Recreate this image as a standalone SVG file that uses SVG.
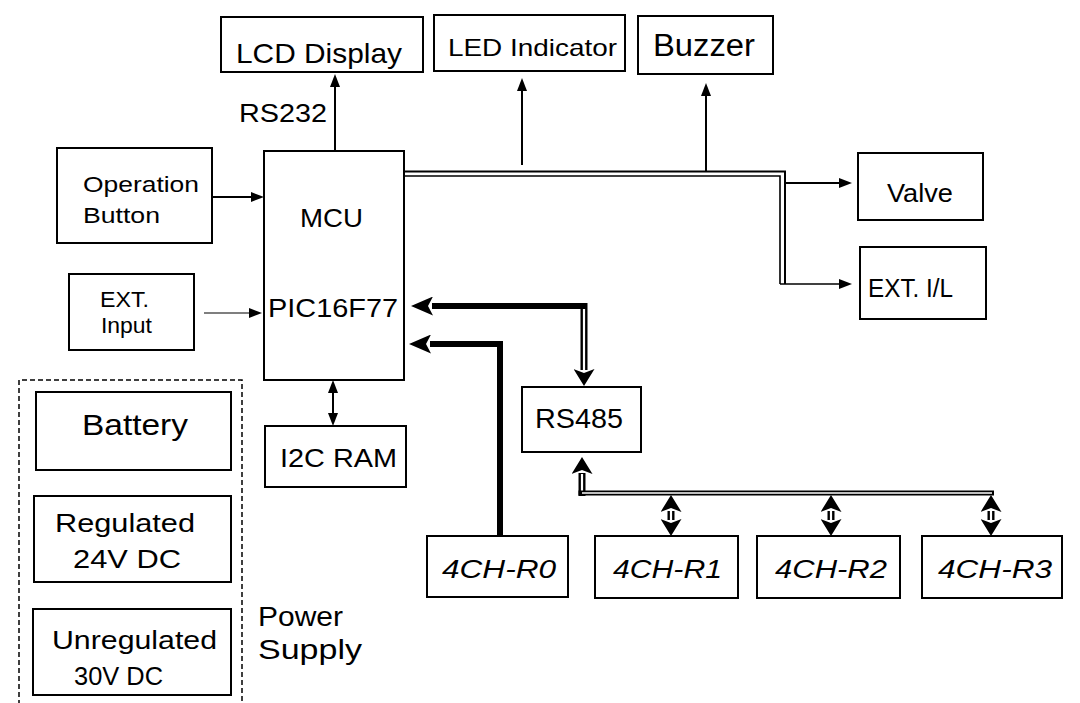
<svg xmlns="http://www.w3.org/2000/svg" width="1080" height="703" viewBox="0 0 1080 703">
<style>
.box{fill:#fff;stroke:#000;stroke-width:2}
.t{font-family:"Liberation Sans",Arial,sans-serif;fill:#000}
.i{font-style:italic}
.ln{fill:none;stroke:#000;stroke-width:2}
.thin{fill:none;stroke:#000;stroke-width:1.2}
.thick{fill:none;stroke:#000;stroke-width:6}
.hol{fill:none;stroke:#000;stroke-width:7}
.holw{fill:none;stroke:#fff;stroke-width:2.2}
</style>
<defs>
<marker id="a" markerUnits="userSpaceOnUse" markerWidth="13" markerHeight="10" refX="1" refY="5" orient="auto-start-reverse" viewBox="0 0 13 10"><path d="M0,0 L13,5 L0,10 z" fill="#000"/></marker>
<marker id="big" markerUnits="userSpaceOnUse" markerWidth="22" markerHeight="19" refX="1" refY="9.5" orient="auto" viewBox="0 0 22 19"><path d="M0,0 L22,9.5 L0,19 L5,9.5 z" fill="#000"/></marker>
<marker id="mid" markerUnits="userSpaceOnUse" markerWidth="17" markerHeight="21" refX="1" refY="10.5" orient="auto-start-reverse" viewBox="0 0 17 21"><path d="M0,0 L17,10.5 L0,21 L4,10.5 z" fill="#000"/></marker>
</defs>

<g id="connectors">
<line class="ln" x1="335" y1="151" x2="335" y2="86" marker-end="url(#a)"/>
<line class="ln" x1="522" y1="165" x2="522" y2="90" marker-end="url(#a)"/>
<line class="ln" x1="706" y1="171" x2="706" y2="95" marker-end="url(#a)"/>
<path class="ln" d="M404,171.5 H785 V284"/>
<path class="thin" style="stroke-width:1.6" d="M404,176 H780 V284"/>
<line class="ln" x1="785" y1="183" x2="840" y2="183" marker-end="url(#a)"/>
<line class="thin" style="stroke-width:1.6" x1="780" y1="284" x2="840" y2="284" marker-end="url(#a)"/>
<line class="ln" x1="212" y1="197" x2="252" y2="197" marker-end="url(#a)"/>
<line class="thin" x1="204" y1="313" x2="250" y2="313" marker-end="url(#a)"/>
<line class="ln" x1="333" y1="392" x2="333" y2="414" marker-start="url(#a)" marker-end="url(#a)"/>
<line class="thick" x1="587" y1="306" x2="432" y2="306" marker-end="url(#big)"/>
<line class="hol" x1="584" y1="303" x2="584" y2="370" marker-end="url(#mid)"/>
<line class="holw" x1="584" y1="309" x2="584" y2="370"/>
<path class="thick" d="M500,536 V344 H430" marker-end="url(#big)"/>
<line class="hol" x1="582" y1="496" x2="582" y2="473" marker-end="url(#mid)"/>
<line class="holw" x1="582" y1="493" x2="582" y2="474"/>
<line class="thick" style="stroke-width:5" x1="578.5" y1="493" x2="994" y2="493"/>
<line class="holw" style="stroke-width:1.5" x1="582" y1="493" x2="992" y2="493"/>
<line class="hol" x1="671" y1="511" x2="671" y2="520" marker-start="url(#mid)" marker-end="url(#mid)"/>
<line class="holw" x1="671" y1="510" x2="671" y2="521"/>
<line class="hol" x1="831" y1="511" x2="831" y2="520" marker-start="url(#mid)" marker-end="url(#mid)"/>
<line class="holw" x1="831" y1="510" x2="831" y2="521"/>
<line class="hol" x1="991" y1="511" x2="991" y2="520" marker-start="url(#mid)" marker-end="url(#mid)"/>
<line class="holw" x1="991" y1="510" x2="991" y2="521"/>
</g>

<g id="lcd"><rect class="box" x="221" y="17" width="202" height="55"/><text class="t" x="236" y="63" font-size="28" textLength="166" lengthAdjust="spacingAndGlyphs">LCD Display</text></g>
<g id="led"><rect class="box" x="434" y="15" width="191" height="56"/><text class="t" x="448" y="56" font-size="24" textLength="169" lengthAdjust="spacingAndGlyphs">LED Indicator</text></g>
<g id="buzzer"><rect class="box" x="638" y="16" width="135" height="58"/><text class="t" x="653" y="56" font-size="31" textLength="102" lengthAdjust="spacingAndGlyphs">Buzzer</text></g>
<text id="rs232" class="t" x="239" y="122" font-size="25" textLength="88" lengthAdjust="spacingAndGlyphs">RS232</text>
<g id="opbutton"><rect class="box" x="57" y="148" width="155" height="95"/><text class="t" x="83" y="192" font-size="22" textLength="116" lengthAdjust="spacingAndGlyphs">Operation</text><text class="t" x="83" y="223" font-size="22" textLength="77" lengthAdjust="spacingAndGlyphs">Button</text></g>
<g id="mcu"><rect class="box" x="264" y="151" width="140" height="229"/><text class="t" x="300" y="227" font-size="26" textLength="63" lengthAdjust="spacingAndGlyphs">MCU</text><text class="t" x="268" y="317" font-size="25" textLength="130" lengthAdjust="spacingAndGlyphs">PIC16F77</text></g>
<g id="extinput"><rect class="box" x="69" y="274" width="125" height="76"/><text class="t" x="100" y="307" font-size="22" textLength="49" lengthAdjust="spacingAndGlyphs">EXT.</text><text class="t" x="101" y="333" font-size="22" textLength="51" lengthAdjust="spacingAndGlyphs">Input</text></g>
<g id="valve"><rect class="box" x="858" y="153" width="125" height="67"/><text class="t" x="887" y="202" font-size="25" textLength="66" lengthAdjust="spacingAndGlyphs">Valve</text></g>
<g id="extil"><rect class="box" x="860" y="247" width="126" height="72"/><text class="t" x="868" y="297" font-size="25" textLength="85" lengthAdjust="spacingAndGlyphs">EXT. I/L</text></g>
<g id="i2cram"><rect class="box" x="265" y="426" width="141" height="61"/><text class="t" x="280" y="467" font-size="25" textLength="117" lengthAdjust="spacingAndGlyphs">I2C RAM</text></g>
<g id="rs485"><rect class="box" x="522" y="387" width="119" height="65"/><text class="t" x="535" y="428" font-size="27" textLength="88" lengthAdjust="spacingAndGlyphs">RS485</text></g>
<g id="r0"><rect class="box" x="427" y="536" width="141" height="61"/><text class="t i" x="442" y="578" font-size="26" textLength="114" lengthAdjust="spacingAndGlyphs">4CH-R0</text></g>
<g id="r1"><rect class="box" x="595" y="536" width="143" height="62"/><text class="t i" x="613" y="578" font-size="26" textLength="109" lengthAdjust="spacingAndGlyphs">4CH-R1</text></g>
<g id="r2"><rect class="box" x="757" y="536" width="143" height="62"/><text class="t i" x="775" y="578" font-size="26" textLength="112" lengthAdjust="spacingAndGlyphs">4CH-R2</text></g>
<g id="r3"><rect class="box" x="922" y="536" width="140" height="62"/><text class="t i" x="938" y="578" font-size="26" textLength="114" lengthAdjust="spacingAndGlyphs">4CH-R3</text></g>
<g id="powersupply">
<path d="M19,705 V380 H242 V705" fill="none" stroke="#000" stroke-width="1.5" stroke-dasharray="5,3"/>
<text class="t" x="258" y="626" font-size="27" textLength="85" lengthAdjust="spacingAndGlyphs">Power</text>
<text class="t" x="258" y="659" font-size="27" textLength="104" lengthAdjust="spacingAndGlyphs">Supply</text>
</g>
<g id="battery"><rect class="box" x="36" y="392" width="195" height="78"/><text class="t" x="82" y="435" font-size="30" textLength="106" lengthAdjust="spacingAndGlyphs">Battery</text></g>
<g id="regulated"><rect class="box" x="34" y="496" width="197" height="86"/><text class="t" x="55" y="532" font-size="25" textLength="140" lengthAdjust="spacingAndGlyphs">Regulated</text><text class="t" x="73" y="568" font-size="25" textLength="108" lengthAdjust="spacingAndGlyphs">24V DC</text></g>
<g id="unregulated"><rect class="box" x="33" y="609" width="198" height="86"/><text class="t" x="52" y="649" font-size="25" textLength="165" lengthAdjust="spacingAndGlyphs">Unregulated</text><text class="t" x="74" y="685" font-size="25" textLength="89" lengthAdjust="spacingAndGlyphs">30V DC</text></g>
</svg>
